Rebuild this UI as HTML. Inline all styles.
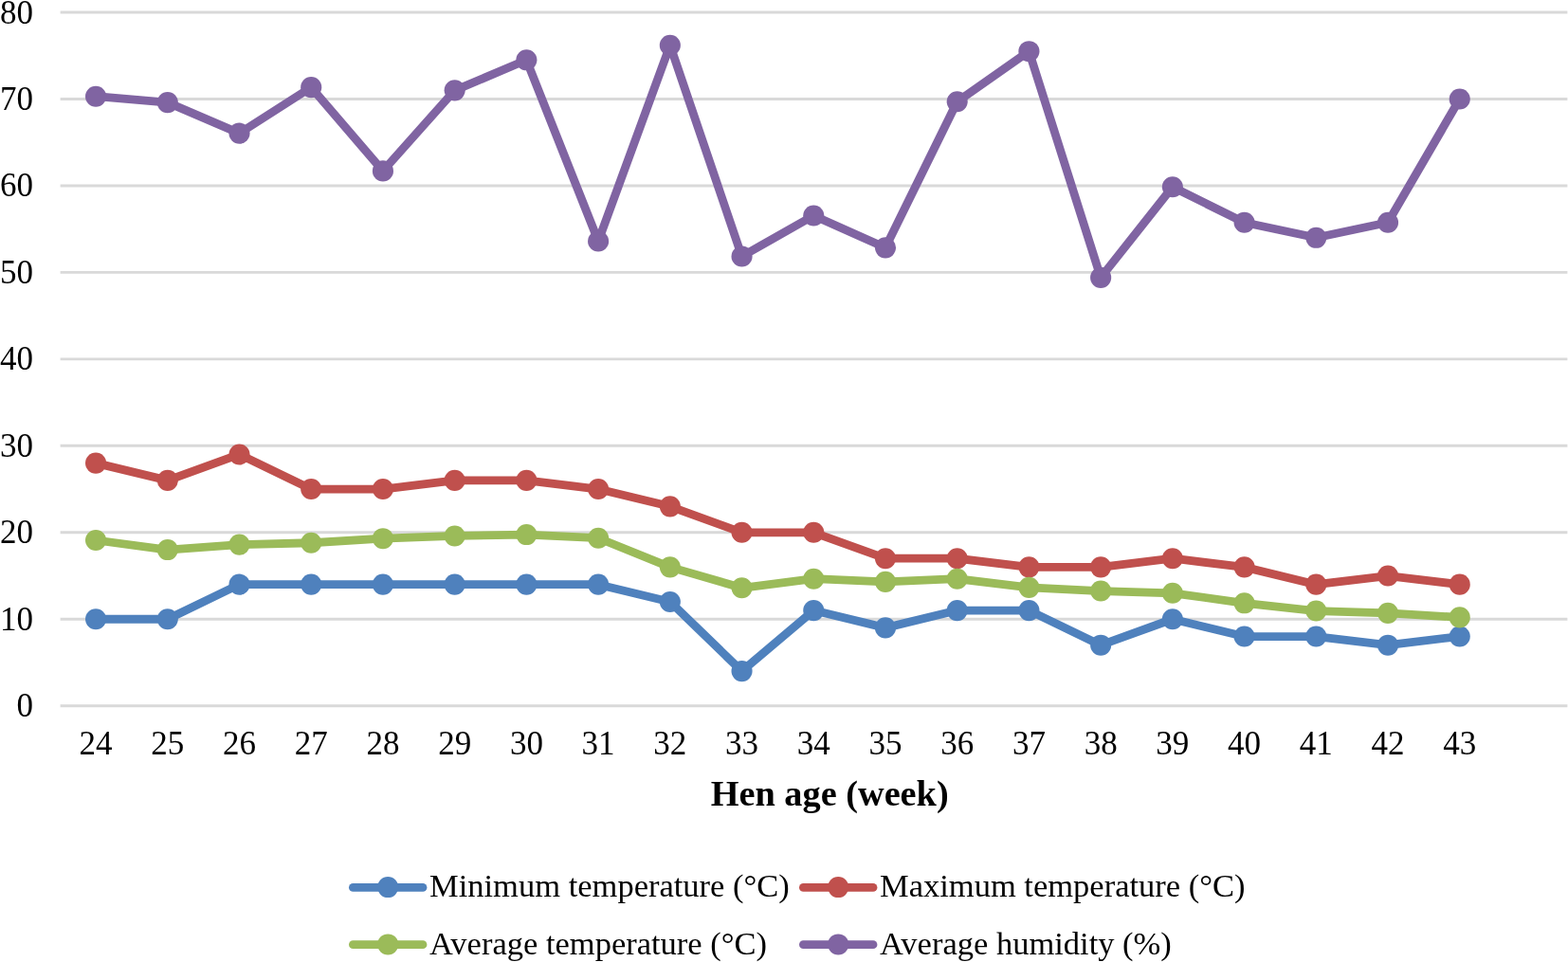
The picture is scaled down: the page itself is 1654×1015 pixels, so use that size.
<!DOCTYPE html>
<html><head><meta charset="utf-8"><title>Chart</title>
<style>
html,body{margin:0;padding:0;background:#fff;}
body{width:1654px;height:1015px;overflow:hidden;}
svg{display:block;}
text{font-family:"Liberation Serif","Times New Roman",serif;fill:#000;}
.yl{font-size:35px;text-anchor:end;dominant-baseline:central;}
.xl{font-size:35px;text-anchor:middle;}
.at{font-size:38.3px;font-weight:bold;text-anchor:middle;}
.lg{font-size:34.5px;}
</style></head>
<body>
<svg width="1654" height="1015" viewBox="0 0 1654 1015">
<line x1="63.6" y1="744.70" x2="1653.4" y2="744.70" stroke="#d9d9d9" stroke-width="2.9"/>
<line x1="63.6" y1="653.24" x2="1653.4" y2="653.24" stroke="#d9d9d9" stroke-width="2.9"/>
<line x1="63.6" y1="561.78" x2="1653.4" y2="561.78" stroke="#d9d9d9" stroke-width="2.9"/>
<line x1="63.6" y1="470.32" x2="1653.4" y2="470.32" stroke="#d9d9d9" stroke-width="2.9"/>
<line x1="63.6" y1="378.86" x2="1653.4" y2="378.86" stroke="#d9d9d9" stroke-width="2.9"/>
<line x1="63.6" y1="287.40" x2="1653.4" y2="287.40" stroke="#d9d9d9" stroke-width="2.9"/>
<line x1="63.6" y1="195.94" x2="1653.4" y2="195.94" stroke="#d9d9d9" stroke-width="2.9"/>
<line x1="63.6" y1="104.48" x2="1653.4" y2="104.48" stroke="#d9d9d9" stroke-width="2.9"/>
<line x1="63.6" y1="13.02" x2="1653.4" y2="13.02" stroke="#d9d9d9" stroke-width="2.9"/>
<text x="35" y="744.70" class="yl">0</text>
<text x="35" y="653.24" class="yl">10</text>
<text x="35" y="561.78" class="yl">20</text>
<text x="35" y="470.32" class="yl">30</text>
<text x="35" y="378.86" class="yl">40</text>
<text x="35" y="287.40" class="yl">50</text>
<text x="35" y="195.94" class="yl">60</text>
<text x="35" y="104.48" class="yl">70</text>
<text x="35" y="13.02" class="yl">80</text>
<text x="101.06" y="796.4" class="xl">24</text>
<text x="176.78" y="796.4" class="xl">25</text>
<text x="252.50" y="796.4" class="xl">26</text>
<text x="328.22" y="796.4" class="xl">27</text>
<text x="403.94" y="796.4" class="xl">28</text>
<text x="479.66" y="796.4" class="xl">29</text>
<text x="555.38" y="796.4" class="xl">30</text>
<text x="631.10" y="796.4" class="xl">31</text>
<text x="706.82" y="796.4" class="xl">32</text>
<text x="782.54" y="796.4" class="xl">33</text>
<text x="858.26" y="796.4" class="xl">34</text>
<text x="933.98" y="796.4" class="xl">35</text>
<text x="1009.70" y="796.4" class="xl">36</text>
<text x="1085.42" y="796.4" class="xl">37</text>
<text x="1161.14" y="796.4" class="xl">38</text>
<text x="1236.86" y="796.4" class="xl">39</text>
<text x="1312.58" y="796.4" class="xl">40</text>
<text x="1388.30" y="796.4" class="xl">41</text>
<text x="1464.02" y="796.4" class="xl">42</text>
<text x="1539.74" y="796.4" class="xl">43</text>
<polyline points="101.06,653.24 176.78,653.24 252.50,616.66 328.22,616.66 403.94,616.66 479.66,616.66 555.38,616.66 631.10,616.66 706.82,634.95 782.54,708.12 858.26,644.09 933.98,662.39 1009.70,644.09 1085.42,644.09 1161.14,680.68 1236.86,653.24 1312.58,671.53 1388.30,671.53 1464.02,680.68 1539.74,671.53" fill="none" stroke="#4f81bd" stroke-width="8.8" stroke-linejoin="round" stroke-linecap="round"/>
<circle cx="101.06" cy="653.24" r="11.05" fill="#4f81bd"/>
<circle cx="176.78" cy="653.24" r="11.05" fill="#4f81bd"/>
<circle cx="252.50" cy="616.66" r="11.05" fill="#4f81bd"/>
<circle cx="328.22" cy="616.66" r="11.05" fill="#4f81bd"/>
<circle cx="403.94" cy="616.66" r="11.05" fill="#4f81bd"/>
<circle cx="479.66" cy="616.66" r="11.05" fill="#4f81bd"/>
<circle cx="555.38" cy="616.66" r="11.05" fill="#4f81bd"/>
<circle cx="631.10" cy="616.66" r="11.05" fill="#4f81bd"/>
<circle cx="706.82" cy="634.95" r="11.05" fill="#4f81bd"/>
<circle cx="782.54" cy="708.12" r="11.05" fill="#4f81bd"/>
<circle cx="858.26" cy="644.09" r="11.05" fill="#4f81bd"/>
<circle cx="933.98" cy="662.39" r="11.05" fill="#4f81bd"/>
<circle cx="1009.70" cy="644.09" r="11.05" fill="#4f81bd"/>
<circle cx="1085.42" cy="644.09" r="11.05" fill="#4f81bd"/>
<circle cx="1161.14" cy="680.68" r="11.05" fill="#4f81bd"/>
<circle cx="1236.86" cy="653.24" r="11.05" fill="#4f81bd"/>
<circle cx="1312.58" cy="671.53" r="11.05" fill="#4f81bd"/>
<circle cx="1388.30" cy="671.53" r="11.05" fill="#4f81bd"/>
<circle cx="1464.02" cy="680.68" r="11.05" fill="#4f81bd"/>
<circle cx="1539.74" cy="671.53" r="11.05" fill="#4f81bd"/>
<polyline points="101.06,488.61 176.78,506.90 252.50,479.47 328.22,516.05 403.94,516.05 479.66,506.90 555.38,506.90 631.10,516.05 706.82,534.34 782.54,561.78 858.26,561.78 933.98,589.22 1009.70,589.22 1085.42,598.36 1161.14,598.36 1236.86,589.22 1312.58,598.36 1388.30,616.66 1464.02,607.51 1539.74,616.66" fill="none" stroke="#c0504d" stroke-width="8.8" stroke-linejoin="round" stroke-linecap="round"/>
<circle cx="101.06" cy="488.61" r="11.05" fill="#c0504d"/>
<circle cx="176.78" cy="506.90" r="11.05" fill="#c0504d"/>
<circle cx="252.50" cy="479.47" r="11.05" fill="#c0504d"/>
<circle cx="328.22" cy="516.05" r="11.05" fill="#c0504d"/>
<circle cx="403.94" cy="516.05" r="11.05" fill="#c0504d"/>
<circle cx="479.66" cy="506.90" r="11.05" fill="#c0504d"/>
<circle cx="555.38" cy="506.90" r="11.05" fill="#c0504d"/>
<circle cx="631.10" cy="516.05" r="11.05" fill="#c0504d"/>
<circle cx="706.82" cy="534.34" r="11.05" fill="#c0504d"/>
<circle cx="782.54" cy="561.78" r="11.05" fill="#c0504d"/>
<circle cx="858.26" cy="561.78" r="11.05" fill="#c0504d"/>
<circle cx="933.98" cy="589.22" r="11.05" fill="#c0504d"/>
<circle cx="1009.70" cy="589.22" r="11.05" fill="#c0504d"/>
<circle cx="1085.42" cy="598.36" r="11.05" fill="#c0504d"/>
<circle cx="1161.14" cy="598.36" r="11.05" fill="#c0504d"/>
<circle cx="1236.86" cy="589.22" r="11.05" fill="#c0504d"/>
<circle cx="1312.58" cy="598.36" r="11.05" fill="#c0504d"/>
<circle cx="1388.30" cy="616.66" r="11.05" fill="#c0504d"/>
<circle cx="1464.02" cy="607.51" r="11.05" fill="#c0504d"/>
<circle cx="1539.74" cy="616.66" r="11.05" fill="#c0504d"/>
<polyline points="101.06,570.01 176.78,580.07 252.50,574.58 328.22,572.76 403.94,568.18 479.66,565.44 555.38,564.07 631.10,567.72 706.82,598.36 782.54,620.31 858.26,610.71 933.98,613.91 1009.70,610.71 1085.42,619.86 1161.14,623.52 1236.86,625.80 1312.58,636.32 1388.30,644.55 1464.02,646.84 1539.74,651.41" fill="none" stroke="#9bbb59" stroke-width="8.8" stroke-linejoin="round" stroke-linecap="round"/>
<circle cx="101.06" cy="570.01" r="11.05" fill="#9bbb59"/>
<circle cx="176.78" cy="580.07" r="11.05" fill="#9bbb59"/>
<circle cx="252.50" cy="574.58" r="11.05" fill="#9bbb59"/>
<circle cx="328.22" cy="572.76" r="11.05" fill="#9bbb59"/>
<circle cx="403.94" cy="568.18" r="11.05" fill="#9bbb59"/>
<circle cx="479.66" cy="565.44" r="11.05" fill="#9bbb59"/>
<circle cx="555.38" cy="564.07" r="11.05" fill="#9bbb59"/>
<circle cx="631.10" cy="567.72" r="11.05" fill="#9bbb59"/>
<circle cx="706.82" cy="598.36" r="11.05" fill="#9bbb59"/>
<circle cx="782.54" cy="620.31" r="11.05" fill="#9bbb59"/>
<circle cx="858.26" cy="610.71" r="11.05" fill="#9bbb59"/>
<circle cx="933.98" cy="613.91" r="11.05" fill="#9bbb59"/>
<circle cx="1009.70" cy="610.71" r="11.05" fill="#9bbb59"/>
<circle cx="1085.42" cy="619.86" r="11.05" fill="#9bbb59"/>
<circle cx="1161.14" cy="623.52" r="11.05" fill="#9bbb59"/>
<circle cx="1236.86" cy="625.80" r="11.05" fill="#9bbb59"/>
<circle cx="1312.58" cy="636.32" r="11.05" fill="#9bbb59"/>
<circle cx="1388.30" cy="644.55" r="11.05" fill="#9bbb59"/>
<circle cx="1464.02" cy="646.84" r="11.05" fill="#9bbb59"/>
<circle cx="1539.74" cy="651.41" r="11.05" fill="#9bbb59"/>
<polyline points="101.06,101.74 176.78,108.14 252.50,140.61 328.22,92.13 403.94,180.39 479.66,95.33 555.38,63.32 631.10,254.47 706.82,47.77 782.54,270.48 858.26,227.49 933.98,261.33 1009.70,107.22 1085.42,54.18 1161.14,292.89 1236.86,197.31 1312.58,234.81 1388.30,250.82 1464.02,234.81 1539.74,104.48" fill="none" stroke="#8064a2" stroke-width="8.8" stroke-linejoin="round" stroke-linecap="round"/>
<circle cx="101.06" cy="101.74" r="11.05" fill="#8064a2"/>
<circle cx="176.78" cy="108.14" r="11.05" fill="#8064a2"/>
<circle cx="252.50" cy="140.61" r="11.05" fill="#8064a2"/>
<circle cx="328.22" cy="92.13" r="11.05" fill="#8064a2"/>
<circle cx="403.94" cy="180.39" r="11.05" fill="#8064a2"/>
<circle cx="479.66" cy="95.33" r="11.05" fill="#8064a2"/>
<circle cx="555.38" cy="63.32" r="11.05" fill="#8064a2"/>
<circle cx="631.10" cy="254.47" r="11.05" fill="#8064a2"/>
<circle cx="706.82" cy="47.77" r="11.05" fill="#8064a2"/>
<circle cx="782.54" cy="270.48" r="11.05" fill="#8064a2"/>
<circle cx="858.26" cy="227.49" r="11.05" fill="#8064a2"/>
<circle cx="933.98" cy="261.33" r="11.05" fill="#8064a2"/>
<circle cx="1009.70" cy="107.22" r="11.05" fill="#8064a2"/>
<circle cx="1085.42" cy="54.18" r="11.05" fill="#8064a2"/>
<circle cx="1161.14" cy="292.89" r="11.05" fill="#8064a2"/>
<circle cx="1236.86" cy="197.31" r="11.05" fill="#8064a2"/>
<circle cx="1312.58" cy="234.81" r="11.05" fill="#8064a2"/>
<circle cx="1388.30" cy="250.82" r="11.05" fill="#8064a2"/>
<circle cx="1464.02" cy="234.81" r="11.05" fill="#8064a2"/>
<circle cx="1539.74" cy="104.48" r="11.05" fill="#8064a2"/>
<text x="875.2" y="850" class="at">Hen age (week)</text>
<line x1="372.4" y1="936.4" x2="446.0" y2="936.4" stroke="#4f81bd" stroke-width="8.8" stroke-linecap="round"/>
<circle cx="409.2" cy="936.1" r="11" fill="#4f81bd"/>
<text x="453" y="946.3" class="lg">Minimum temperature (°C)</text>
<line x1="847.4" y1="936.4" x2="921.0" y2="936.4" stroke="#c0504d" stroke-width="8.8" stroke-linecap="round"/>
<circle cx="884.2" cy="936.1" r="11" fill="#c0504d"/>
<text x="928" y="946.3" class="lg">Maximum temperature (°C)</text>
<line x1="372.4" y1="996.7" x2="446.0" y2="996.7" stroke="#9bbb59" stroke-width="8.8" stroke-linecap="round"/>
<circle cx="409.2" cy="996.4000000000001" r="11" fill="#9bbb59"/>
<text x="453" y="1006.6" class="lg">Average temperature (°C)</text>
<line x1="847.4" y1="996.7" x2="921.0" y2="996.7" stroke="#8064a2" stroke-width="8.8" stroke-linecap="round"/>
<circle cx="884.2" cy="996.4000000000001" r="11" fill="#8064a2"/>
<text x="928" y="1006.6" class="lg">Average humidity (%)</text>
</svg>
</body></html>
